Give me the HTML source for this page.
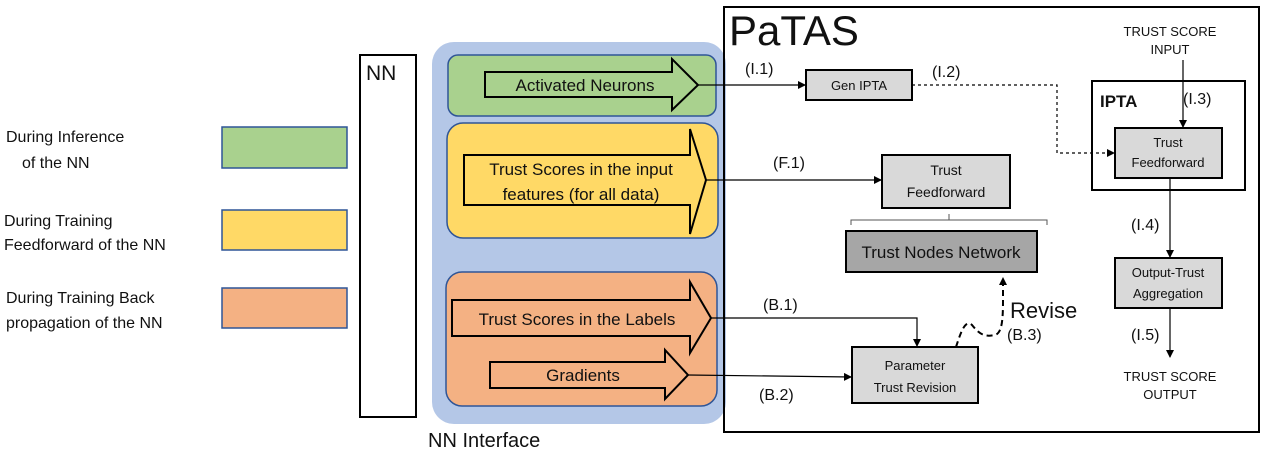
<!DOCTYPE html>
<html><head><style>body{margin:0;background:#fff}svg{display:block}text{font-family:"Liberation Sans",sans-serif;fill:#111}</style></head><body>
<svg width="1267" height="453" viewBox="0 0 1267 453">
<defs><marker id="a" markerWidth="8" markerHeight="8" refX="7" refY="4" orient="auto" markerUnits="userSpaceOnUse"><path d="M0,0 L8,4 L0,8 z" fill="#000"/></marker></defs>
<!-- legend -->
<text x="6" y="142" font-size="16">During Inference</text><text x="22" y="168" font-size="16">of the NN</text>
<text x="4" y="226" font-size="16">During Training</text><text x="4" y="250" font-size="16">Feedforward of the NN</text>
<text x="6" y="303" font-size="16">During Training Back</text><text x="6" y="328" font-size="16">propagation of the NN</text>
<rect x="222" y="127" width="125" height="41" fill="#a9d18e" stroke="#2f5597" stroke-width="1.5"/>
<rect x="222" y="210" width="125" height="40" fill="#ffd966" stroke="#2f5597" stroke-width="1.5"/>
<rect x="222" y="288" width="125" height="40" fill="#f4b183" stroke="#2f5597" stroke-width="1.5"/>
<!-- NN -->
<rect x="360" y="55" width="56" height="362" fill="#fff" stroke="#000" stroke-width="2"/>
<text x="366" y="80" font-size="21">NN</text>
<rect x="432" y="42" width="294" height="382" rx="22" fill="#b4c7e7"/>
<text x="428" y="447" font-size="20">NN Interface</text>
<rect x="448" y="55" width="268" height="61" rx="10" fill="#a9d18e" stroke="#2f5597" stroke-width="1.5"/>
<rect x="447" y="123" width="271" height="115" rx="16" fill="#ffd966" stroke="#2f5597" stroke-width="1.5"/>
<rect x="446" y="272" width="271" height="134" rx="16" fill="#f4b183" stroke="#2f5597" stroke-width="1.5"/>
<path d="M485,72 L672,72 L672,59 L698,85 L672,110 L672,97 L485,97 z" fill="none" stroke="#000" stroke-width="2"/>
<text x="585" y="91" font-size="17" text-anchor="middle">Activated Neurons</text>
<path d="M464,155 L690,155 L690,129 L706,180 L690,234 L690,205 L464,205 z" fill="none" stroke="#000" stroke-width="2"/>
<text x="581" y="175" font-size="17" text-anchor="middle">Trust Scores in the input</text>
<text x="581" y="200" font-size="17" text-anchor="middle">features (for all data)</text>
<path d="M452,300 L690,300 L690,282 L711,318 L690,353 L690,336 L452,336 z" fill="none" stroke="#000" stroke-width="2"/>
<text x="577" y="325" font-size="17" text-anchor="middle">Trust Scores in the Labels</text>
<path d="M490,362 L665,362 L665,350 L688,375 L665,399 L665,388 L490,388 z" fill="none" stroke="#000" stroke-width="2"/>
<text x="583" y="381" font-size="17" text-anchor="middle">Gradients</text>
<!-- PaTAS -->
<rect x="724" y="7" width="535" height="425" fill="none" stroke="#000" stroke-width="2"/>
<text x="729" y="45" font-size="42">PaTAS</text>
<rect x="806" y="70" width="106" height="30" fill="#d9d9d9" stroke="#000" stroke-width="2"/>
<text x="859" y="90" font-size="13" text-anchor="middle">Gen IPTA</text>
<rect x="1092" y="81" width="153" height="109" fill="#fff" stroke="#000" stroke-width="2"/>
<text x="1100" y="107" font-size="17" font-weight="bold">IPTA</text>
<rect x="1115" y="128" width="107" height="50" fill="#d9d9d9" stroke="#000" stroke-width="2"/>
<text x="1168" y="147" font-size="13" text-anchor="middle">Trust</text><text x="1168" y="167" font-size="13" text-anchor="middle">Feedforward</text>
<text x="1170" y="36" font-size="13" text-anchor="middle">TRUST SCORE</text><text x="1170" y="54" font-size="13" text-anchor="middle">INPUT</text>
<rect x="882" y="155" width="128" height="53" fill="#d9d9d9" stroke="#000" stroke-width="2"/>
<text x="946" y="175" font-size="14" text-anchor="middle">Trust</text><text x="946" y="197" font-size="14" text-anchor="middle">Feedforward</text>
<path d="M851,225 L851,220 L1047,220 L1047,225 M949,220 L949,214" fill="none" stroke="#555" stroke-width="1"/>
<rect x="846" y="231" width="191" height="41" fill="#a6a6a6" stroke="#000" stroke-width="2"/>
<text x="941" y="258" font-size="17" text-anchor="middle">Trust Nodes Network</text>
<rect x="1115" y="258" width="107" height="50" fill="#d9d9d9" stroke="#000" stroke-width="2"/>
<text x="1168" y="277" font-size="13" text-anchor="middle">Output-Trust</text><text x="1168" y="298" font-size="13" text-anchor="middle">Aggregation</text>
<rect x="852" y="347" width="126" height="56" fill="#d9d9d9" stroke="#000" stroke-width="2"/>
<text x="915" y="370" font-size="13" text-anchor="middle">Parameter</text><text x="915" y="392" font-size="13" text-anchor="middle">Trust Revision</text>
<text x="1170" y="381" font-size="13" text-anchor="middle">TRUST SCORE</text><text x="1170" y="399" font-size="13" text-anchor="middle">OUTPUT</text>
<!-- connectors -->
<g stroke="#000" stroke-width="1.2" fill="none">
<path d="M698,85 L805,85" marker-end="url(#a)"/>
<path d="M912,85 L1057,85 L1057,153 L1114,153" stroke-dasharray="3,3" marker-end="url(#a)"/>
<path d="M706,180 L881,180" marker-end="url(#a)"/>
<path d="M711,318 L917,318 L917,346" marker-end="url(#a)"/>
<path d="M688,375 L851,377" marker-end="url(#a)"/>
<path d="M1183,60 L1183,127" marker-end="url(#a)"/>
<path d="M1170,178 L1170,257" marker-end="url(#a)"/>
<path d="M1170,308 L1170,357" marker-end="url(#a)"/>
<path d="M956,347 C960,335 965,318 972,325 C980,335 985,337 995,335 C1002,333 1003,320 1003,300 L1003,278" stroke-width="2" stroke-dasharray="6,4" marker-end="url(#a)"/>
</g>
<text x="745" y="74" font-size="16">(I.1)</text>
<text x="932" y="77" font-size="16">(I.2)</text>
<text x="1183" y="104" font-size="16">(I.3)</text>
<text x="773" y="168" font-size="16">(F.1)</text>
<text x="1131" y="230" font-size="16">(I.4)</text>
<text x="1131" y="340" font-size="16">(I.5)</text>
<text x="763" y="310" font-size="16">(B.1)</text>
<text x="759" y="400" font-size="16">(B.2)</text>
<text x="1007" y="340" font-size="16">(B.3)</text>
<text x="1010" y="318" font-size="22">Revise</text>
</svg>
</body></html>
